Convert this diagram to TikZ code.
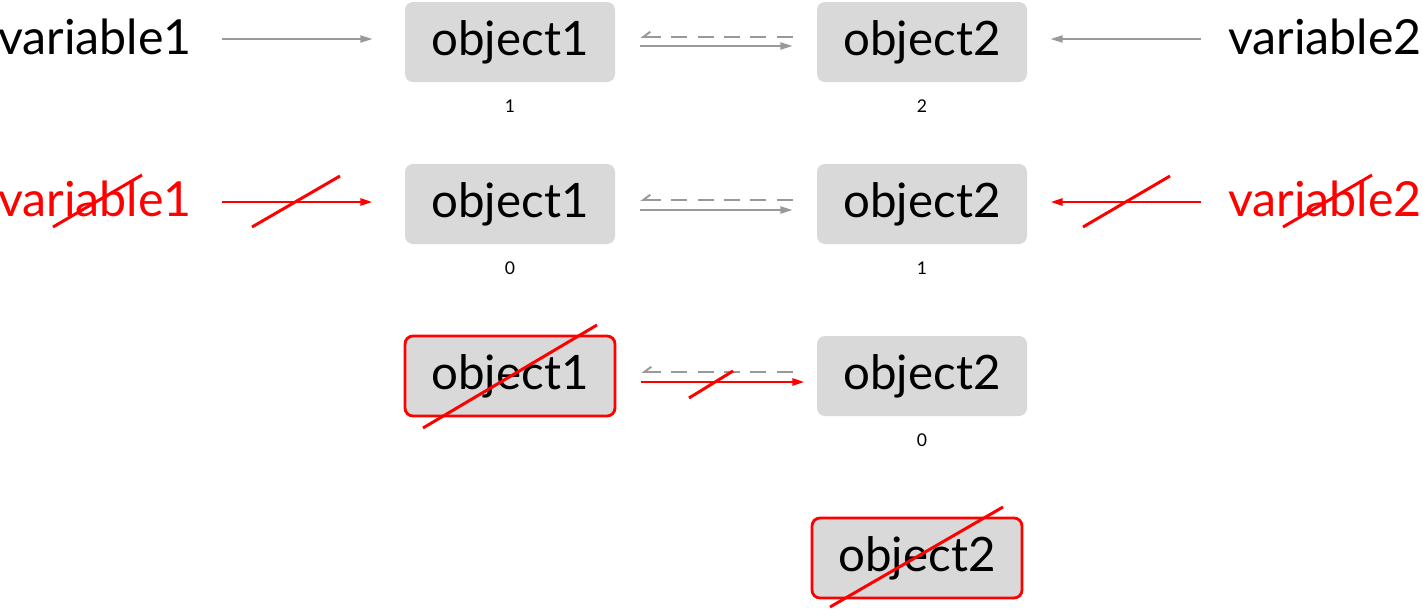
\documentclass[tikz,border=0pt]{standalone}
\usepackage{fontspec}
\setmainfont{Lato}
\usepackage{tikz}
\usetikzlibrary{arrows.meta, positioning}

\definecolor{boxgray}{HTML}{D9D9D9}
\definecolor{linegray}{HTML}{999999}
\definecolor{strikered}{HTML}{FF0000}

\begin{document}
\begin{tikzpicture}[
  obj/.style={rectangle, rounded corners=0.16cm, fill=boxgray, minimum width=4.2cm, minimum height=1.6cm, font=\fontsize{27}{30}\selectfont},
  deadobj/.style={obj, draw=strikered, line width=1.6pt},
  var/.style={inner sep=0pt, font=\fontsize{27.5}{30}\selectfont},
  deadvar/.style={var, text=strikered},
  count/.style={font=\fontsize{10}{12}\selectfont},
  ref/.style={-{Triangle[length=7pt, width=4pt]}, linegray, line width=1.1pt},
  deadref/.style={ref, strikered, line width=1.5pt},
  backref/.style={-{Straight Barb[harpoon, swap, length=4pt, width=6pt]}, linegray, line width=1.1pt, dash pattern=on 9pt off 6pt},
  strike/.style={strikered, line width=1.7pt}
]
  \useasboundingbox (0,0) rectangle (28.46,-12.2);

  % Step 1: both variables alive
  \node (var1a) [var] at (1.9,-0.74) {variable1};
  \node (var2a) [var] at (26.5,-0.74) {variable2};
  \node (obj1a) [obj] at (10.2,-0.84) {object1};
  \node (obj2a) [obj] at (18.44,-0.84) {object2};
  \node (cnt1a) [count, below=0.22cm of obj1a] {1};
  \node (cnt2a) [count, below=0.22cm of obj2a] {2};

  \draw[ref, shorten <=0.6cm, shorten >=0.64cm] ([yshift=-0.04cm]var1a.east) -- ([yshift=-0.04cm]var1a.east -| obj1a.west);
  \draw[ref, shorten <=0.54cm, shorten >=0.46cm] ([yshift=-0.04cm]var2a.west) -- ([yshift=-0.04cm]var2a.west -| obj2a.east);
  \draw[backref, shorten <=0.48cm, shorten >=0.5cm] ([yshift=0.1cm]obj2a.west) -- ([yshift=0.1cm]obj1a.east);
  \draw[ref, shorten <=0.5cm, shorten >=0.48cm] ([yshift=-0.08cm]obj1a.east) -- ([yshift=-0.08cm]obj2a.west);

  % Step 2: variables deleted
  \node (var1b) [deadvar] at (1.9,-3.98) {variable1};
  \node (var2b) [deadvar] at (26.5,-3.98) {variable2};
  \node (obj1b) [obj] at (10.2,-4.08) {object1};
  \node (obj2b) [obj] at (18.44,-4.08) {object2};
  \node (cnt1b) [count, below=0.22cm of obj1b] {0};
  \node (cnt2b) [count, below=0.22cm of obj2b] {1};

  \draw[deadref, shorten <=0.6cm, shorten >=0.64cm] ([yshift=-0.06cm]var1b.east) -- ([yshift=-0.06cm]var1b.east -| obj1b.west);
  \draw[deadref, shorten <=0.54cm, shorten >=0.46cm] ([yshift=-0.06cm]var2b.west) -- ([yshift=-0.06cm]var2b.west -| obj2b.east);
  \draw[backref, shorten <=0.48cm, shorten >=0.5cm] ([yshift=0.08cm]obj2b.west) -- ([yshift=0.08cm]obj1b.east);
  \draw[ref, shorten <=0.5cm, shorten >=0.48cm] ([yshift=-0.12cm]obj1b.east) -- ([yshift=-0.12cm]obj2b.west);

  \draw[strike] ([shift={(-0.84,-0.56)}]var1b.center) -- ([shift={(0.94,0.48)}]var1b.center);
  \draw[strike] ([shift={(-0.84,-0.56)}]var2b.center) -- ([shift={(0.94,0.48)}]var2b.center);
  \draw[strike] (5.04,-4.54) -- (6.8,-3.52);
  \draw[strike] (21.66,-4.54) -- (23.4,-3.52);

  % Step 3: object1 collected
  \node (obj1c) [deadobj] at (10.2,-7.52) {object1};
  \node (obj2c) [obj] at (18.44,-7.52) {object2};
  \node (cnt2c) [count, below=0.22cm of obj2c] {0};

  \draw[backref, shorten <=0.48cm, shorten >=0.5cm] ([yshift=0.08cm]obj2c.west) -- ([yshift=0.08cm]obj1c.east);
  \draw[deadref, shorten <=0.5cm, shorten >=0.24cm] ([yshift=-0.12cm]obj1c.east) -- ([yshift=-0.12cm]obj2c.west);

  \draw[strike] ([shift={(-1.74,-1.04)}]obj1c.center) -- ([shift={(1.74,1.02)}]obj1c.center);
  \draw[strike] (13.78,-7.96) -- (14.66,-7.42);

  % Step 4: object2 collected
  \node (obj2d) [deadobj] at (18.34,-11.16) {object2};
  \draw[strike] ([shift={(-1.74,-0.98)}]obj2d.center) -- ([shift={(1.72,1.02)}]obj2d.center);

\end{tikzpicture}
\end{document}
